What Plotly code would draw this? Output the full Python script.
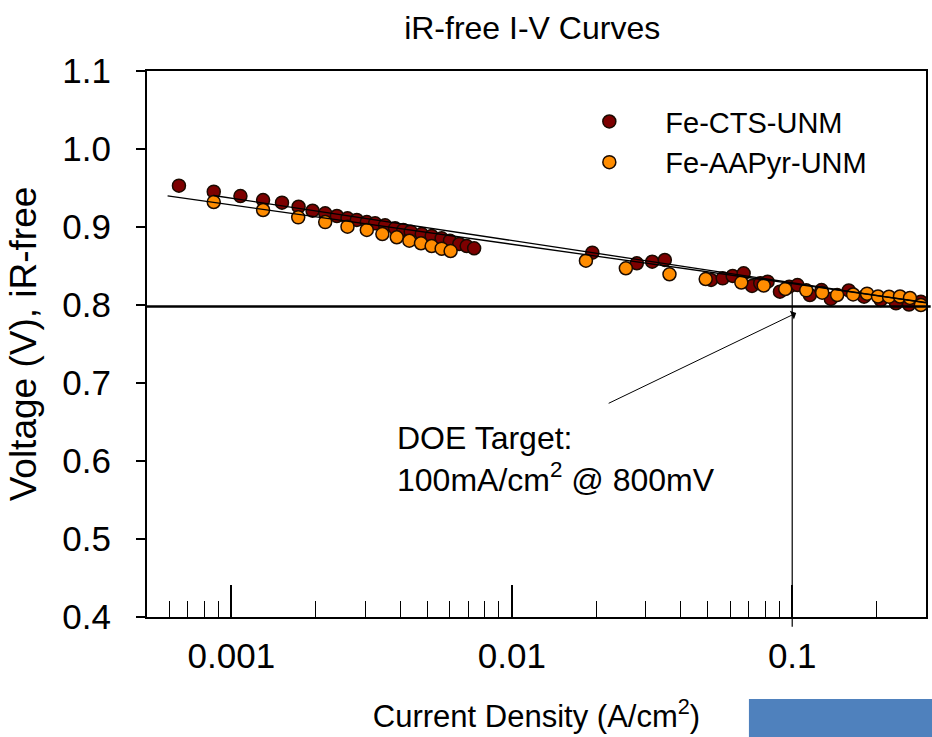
import math
import plotly.graph_objects as go

# ---------------- data ----------------
cts_x = [0.000650, 0.000865, 0.001077, 0.001297, 0.001515, 0.001736, 0.001947, 0.00216,
         0.002378, 0.002594, 0.0028, 0.00304, 0.003255, 0.003532, 0.003834, 0.004102,
         0.004359, 0.004771, 0.005178, 0.005621, 0.006016, 0.006494, 0.006902, 0.007339,
         0.01937, 0.02791, 0.03168, 0.03513, 0.05136, 0.05649, 0.06131, 0.06710,
         0.07188, 0.07691, 0.08169, 0.09042, 0.09757, 0.1044, 0.1156, 0.1272,
         0.1373, 0.1591, 0.1804, 0.2069, 0.2345, 0.2609, 0.2877]
cts_v = [0.953, 0.9453, 0.9397, 0.9346, 0.9312, 0.926, 0.9209, 0.9176,
         0.9141, 0.9112, 0.909, 0.9064, 0.9047, 0.9022, 0.8983, 0.8962,
         0.894, 0.891, 0.8885, 0.8855, 0.8824, 0.8782, 0.8756, 0.8727,
         0.8671, 0.8535, 0.8555, 0.8577, 0.8321, 0.8342, 0.8372, 0.8406,
         0.8244, 0.8278, 0.8299, 0.8171, 0.8235, 0.8256, 0.8128, 0.8192,
         0.8077, 0.8186, 0.8106, 0.8064, 0.8022, 0.8006, 0.8042]

aapyr_x = [0.000865, 0.001297, 0.001731, 0.00216, 0.002594, 0.00304, 0.003454, 0.003888,
           0.004311, 0.004744, 0.005178, 0.005621, 0.006049,
           0.01838, 0.02551, 0.03650, 0.04914, 0.06584, 0.07915, 0.09443, 0.1122,
           0.1279, 0.1446, 0.1649, 0.1849, 0.2023, 0.2214, 0.2423, 0.2630, 0.2877]
aapyr_v = [0.932, 0.9218, 0.9124, 0.9063, 0.9004, 0.8962, 0.8910, 0.8868,
           0.8824, 0.8791, 0.8756, 0.8722, 0.8692,
           0.8568, 0.8471, 0.8394, 0.8333, 0.8288, 0.825, 0.8205, 0.8188,
           0.8158, 0.8128, 0.8135, 0.8145, 0.8109, 0.8106, 0.8109, 0.809, 0.800]

# fitted trend lines (end points)
fit_aapyr_x = [0.000592, 0.2998]
fit_aapyr_v = [0.9399, 0.8032]
fit_cts_x = [0.000863, 0.2998]
fit_cts_v = [0.9404, 0.8026]

doe_current = 0.1
doe_voltage = 0.798

y_ticks = [0.4, 0.5, 0.6, 0.7, 0.8, 0.9, 1.0, 1.1]
x_major = [0.001, 0.01, 0.1]
x_major_text = ["0.001", "0.01", "0.1"]
x_minor = [0.0006, 0.0007, 0.0008, 0.0009,
           0.002, 0.003, 0.004, 0.005, 0.006, 0.007, 0.008, 0.009,
           0.02, 0.03, 0.04, 0.05, 0.06, 0.07, 0.08, 0.09, 0.2]

FONT = "Arial, Liberation Sans, sans-serif"
RED = "#7d0000"
ORANGE = "#ff8c00"
EDGE = "#1a0a00"

fig = go.Figure()
fig.add_trace(go.Scatter(x=cts_x, y=cts_v, mode="markers", name="Fe-CTS-UNM",
                         marker=dict(size=13, color=RED, line=dict(color=EDGE, width=1.5))))
fig.add_trace(go.Scatter(x=aapyr_x, y=aapyr_v, mode="markers", name="Fe-AAPyr-UNM",
                         marker=dict(size=13, color=ORANGE, line=dict(color=EDGE, width=1.5))))
fig.add_trace(go.Scatter(x=fit_aapyr_x, y=fit_aapyr_v, mode="lines", showlegend=False,
                         line=dict(color="black", width=1.3), hoverinfo="skip"))
fig.add_trace(go.Scatter(x=fit_cts_x, y=fit_cts_v, mode="lines", showlegend=False,
                         line=dict(color="black", width=1.3), hoverinfo="skip"))

# DOE target lines
fig.add_shape(type="line", xref="paper", yref="y", x0=0, x1=1.006,
              y0=doe_voltage, y1=doe_voltage, line=dict(color="black", width=2.5))
fig.add_shape(type="line", xref="x", yref="paper", x0=doe_current, x1=doe_current,
              y0=-0.018, y1=0.6, line=dict(color="black", width=1.2), layer="below")

# arrow + label
fig.add_annotation(x=math.log10(0.1033), y=0.7897, xref="x", yref="y",
                   ax=-189, ay=91, axref="pixel", ayref="pixel", showarrow=True,
                   arrowhead=1, arrowsize=1.6, arrowwidth=1, arrowcolor="black", text="")
fig.add_annotation(x=math.log10(0.003834), y=0.6026, xref="x", yref="y", showarrow=False,
                   xanchor="left", yanchor="middle", align="left",
                   text="DOE Target:<br>100mA/cm<sup>2</sup> @ 800mV",
                   font=dict(family=FONT, size=32, color="black"))

# blue block at bottom right
fig.add_shape(type="rect", xref="paper", yref="paper", x0=0.7727, x1=1.01,
              y0=-0.2198, y1=-0.150, line=dict(width=0), fillcolor="#4f81bd")

fig.update_layout(
    width=932, height=737,
    margin=dict(l=147, r=4, t=71, b=120),
    paper_bgcolor="white", plot_bgcolor="white",
    font=dict(family=FONT, color="black"),
    title=dict(text="iR-free I-V Curves", x=0.571, xref="container", xanchor="center",
               y=0.962, yanchor="middle", font=dict(size=32, family=FONT)),
    showlegend=True,
    legend=dict(x=0.5216, y=0.954, xanchor="left", yanchor="top",
                bgcolor="rgba(0,0,0,0)", font=dict(size=29, family=FONT),
                itemwidth=102, tracegroupgap=0),
    xaxis=dict(type="log", range=[math.log10(0.0005), math.log10(0.3)],
               tickvals=x_major, ticktext=x_major_text, ticks="inside", ticklen=32,
               tickwidth=1.5, tickcolor="black", showgrid=False, zeroline=False,
               showline=True, linecolor="black", linewidth=2, mirror=True,
               tickfont=dict(size=35), ticklabelstandoff=7,
               minor=dict(tickvals=x_minor, ticks="inside", ticklen=16, tickwidth=1,
                          tickcolor="black", showgrid=False),
               title=dict(text="Current Density (A/cm<sup>2</sup>)", font=dict(size=31),
                          standoff=31)),
    yaxis=dict(range=[0.4, 1.1], tickvals=y_ticks, tickformat=".1f", ticks="outside",
               ticklen=9, tickwidth=1.5, tickcolor="black", showgrid=False, zeroline=False,
               showline=True, linecolor="black", linewidth=2, mirror=True,
               tickfont=dict(size=35), ticklabelstandoff=18,
               title=dict(text="Voltage (V), iR-free", font=dict(size=37), standoff=14)),
)

fig.write_html("out.html", config={"displayModeBar": False},
               post_script="document.body.style.margin='0';")
